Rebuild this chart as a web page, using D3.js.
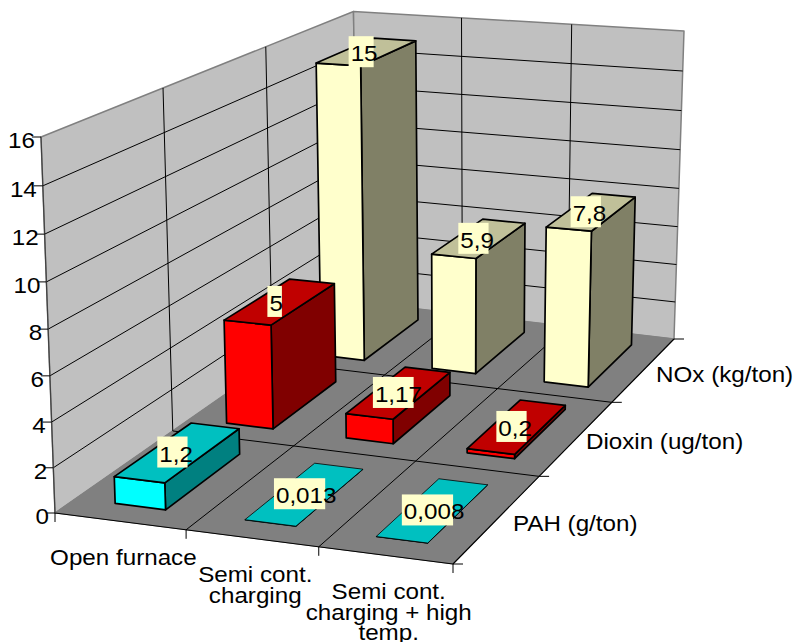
<!DOCTYPE html>
<html>
<head>
<meta charset="utf-8">
<style>
  html, body { margin: 0; padding: 0; background: #fff; }
  svg { display: block; }
  text { font-family: "Liberation Sans", Arial, sans-serif; fill: #000; }
</style>
<script src="https://d3js.org/d3.v7.min.js"></script>
</head>
<body>
<svg id="chart" width="794" height="642"></svg>
<script>
// Chart values
const categories = ["Open furnace", "Semi cont.\ncharging", "Semi cont.\ncharging + high\ntemp."];
const seriesNames = ["PAH (g/ton)", "Dioxin (ug/ton)", "NOx (kg/ton)"]; // front to back
const pahValues = [1.2, 0.013, 0.008];
const dioxinValues = [5, 1.17, 0.2];
const noxValues = [15, 5.9, 7.8];
const yTicks = [0, 2, 4, 6, 8, 10, 12, 14, 16];

const seriesValues = [pahValues, dioxinValues, noxValues];
const seriesColors = [
  { front: "#00FFFF", top: "#00C0C0", side: "#008080" },
  { front: "#FF0000", top: "#C00000", side: "#800000" },
  { front: "#FFFFCC", top: "#C0C099", side: "#808066" }
];

// Box corners on screen: front-left, front-right, back-right, back-left
const floorQuad = [[55, 513], [453, 564], [674, 339], [358, 302]];
const topQuad = [[41, 137], [456, 167], [684, 31], [353.5, 11.5]];
const heightBend = 0.045; // uprights foreshorten slightly towards the floor
const seriesLabelNudge = [[15, 13], [9, 11], [12, 13]];

function squareToQuad(q) {
  const [x0, y0] = q[0], [x1, y1] = q[1], [x2, y2] = q[2], [x3, y3] = q[3];
  const dx1 = x1 - x2, dx2 = x3 - x2, dy1 = y1 - y2, dy2 = y3 - y2;
  const sx = x0 - x1 + x2 - x3, sy = y0 - y1 + y2 - y3;
  const den = dx1 * dy2 - dx2 * dy1;
  const g = (sx * dy2 - dx2 * sy) / den;
  const h = (dx1 * sy - sx * dy1) / den;
  const a = x1 - x0 + g * x1, b = x3 - x0 + h * x3;
  const d = y1 - y0 + g * y1, e = y3 - y0 + h * y3;
  return (u, v) => {
    const w = g * u + h * v + 1;
    return [(a * u + b * v + x0) / w, (d * u + e * v + y0) / w];
  };
}

const floorAt = squareToQuad(floorQuad);
const topAt = squareToQuad(topQuad);

// u across categories, v into depth, z up; all 0..1
function project(u, v, z) {
  const p0 = floorAt(u, v), p1 = topAt(u, v);
  const t = z / (1 + heightBend * (1 - z));
  return [p0[0] + (p1[0] - p0[0]) * t, p0[1] + (p1[1] - p0[1]) * t];
}

const xBand = d3.scaleBand().domain(d3.range(3)).range([0, 1]).paddingInner(0.61).paddingOuter(0.305);
const depthBand = d3.scaleBand().domain(d3.range(3)).range([0, 1]).paddingInner(0.33).paddingOuter(0.165);
const zScale = d3.scaleLinear().domain([0, 16]).range([0, 1]);

const svg = d3.select("#chart");
const poly = d3.line().curve(d3.curveLinearClosed);
const seg = d3.line();

function face(g, pts, fill, stroke, sw) {
  g.append("path").attr("d", poly(pts)).attr("fill", fill)
    .attr("stroke", stroke).attr("stroke-width", sw).attr("stroke-linejoin", "round");
}
function rule(g, a, b, color, sw) {
  g.append("path").attr("d", seg([a, b])).attr("fill", "none").attr("stroke", color).attr("stroke-width", sw);
}

// Walls and floor
const frame = svg.append("g");
face(frame, [project(0, 0, 0), project(0, 1, 0), project(0, 1, 1), project(0, 0, 1)], "#C0C0C0", "#808080", 1.5);
face(frame, [project(0, 1, 0), project(1, 1, 0), project(1, 1, 1), project(0, 1, 1)], "#C0C0C0", "#808080", 1.5);
face(frame, [project(0, 0, 0), project(1, 0, 0), project(1, 1, 0), project(0, 1, 0)], "#808080", "#808080", 1);

// Gridlines
yTicks.slice(1, -1).forEach(t => {
  const z = zScale(t);
  rule(frame, project(0, 0, z), project(0, 1, z), "#000", 1);
  rule(frame, project(0, 1, z), project(1, 1, z), "#000", 1);
});
[1 / 3, 2 / 3].forEach(f => {
  rule(frame, project(0, f, 0), project(0, f, 1), "#000", 1);
  rule(frame, project(f, 1, 0), project(f, 1, 1), "#000", 1);
  rule(frame, project(f, 0, 0), project(f, 1, 0), "#000", 1);
  rule(frame, project(0, f, 0), project(1, f, 0), "#000", 1);
});

// Axis edges and ticks
rule(frame, project(0, 0, 0), project(1, 0, 0), "#000", 1.2);
rule(frame, project(1, 0, 0), project(1, 1, 0), "#000", 1.2);
rule(frame, project(0, 0, 0), project(0, 0, 1), "#404040", 1.2);
yTicks.forEach(t => {
  const p = project(0, 0, zScale(t));
  rule(frame, [p[0] - 9, p[1]], p, "#000", 1);
  svg.append("text").attr("text-anchor", "end")
    .attr("transform", `translate(${p[0] - 6},${p[1] + 11}) scale(1.1,1)`)
    .attr("font-size", 22).text(t);
});
[0, 1 / 3, 2 / 3, 1].forEach(f => {
  const p = project(f, 0, 0);
  rule(frame, p, [p[0], p[1] + 9], "#000", 1);
});
[0, 1 / 3, 2 / 3, 1].forEach(f => {
  const p = project(1, f, 0);
  rule(frame, p, [p[0] + 10, p[1]], "#000", 1);
});

// Bars, back row first
const bars = svg.append("g");
const labels = [];
[2, 1, 0].forEach(s => {
  categories.forEach((c, i) => {
    const u0 = xBand(i), u1 = u0 + xBand.bandwidth();
    const v0 = depthBand(s), v1 = v0 + depthBand.bandwidth();
    const z = zScale(seriesValues[s][i]);
    const col = seriesColors[s];
    const sw = seriesValues[s][i] < 0.1 ? 0.8 : 1.7;
    face(bars, [project(u1, v0, 0), project(u1, v1, 0), project(u1, v1, z), project(u1, v0, z)], col.side, "#000", sw);
    face(bars, [project(u0, v0, 0), project(u1, v0, 0), project(u1, v0, z), project(u0, v0, z)], col.front, "#000", sw);
    face(bars, [project(u0, v0, z), project(u1, v0, z), project(u1, v1, z), project(u0, v1, z)], col.top, "#000", sw);
    labels.push({ at: project((u0 + u1) / 2, (v0 + v1) / 2, z), text: String(seriesValues[s][i]).replace(".", ",") });
  });
});

// Data labels sit on a pale box narrower than the text
const labelLayer = svg.append("g");
labels.forEach(d => {
  const g = labelLayer.append("g");
  const rect = g.append("rect").attr("fill", "#FFFFCC");
  const txt = g.append("text").attr("font-size", 22).text(d.text);
  const len = txt.node().getComputedTextLength() * 1.1;
  const w = len * 0.78 + 4;
  const left = d.at[0] - w / 2 - 6;
  rect.attr("x", left).attr("y", d.at[1] - 15.5).attr("width", w).attr("height", 31);
  txt.attr("transform", `translate(${left + 2},${d.at[1] + 9.5}) scale(1.1,1)`);
});

// Category labels under the front edge
categories.forEach((c, i) => {
  const p = project(xBand(i) + xBand.bandwidth() / 2, 0, 0);
  c.split("\n").forEach((line, j) => {
    svg.append("text").attr("text-anchor", "middle")
      .attr("transform", `translate(${p[0] + 3},${p[1] + 44 + j * 20.5}) scale(1.1,1)`)
      .attr("font-size", 22).text(line);
  });
});

// Series labels beside the right edge
seriesNames.forEach((name, s) => {
  const p = project(1, depthBand(s) + depthBand.bandwidth() / 2, 0);
  svg.append("text")
    .attr("transform", `translate(${p[0] + seriesLabelNudge[s][0]},${p[1] + seriesLabelNudge[s][1]}) scale(1.1,1)`)
    .attr("font-size", 22).text(name);
});
</script>
</body>
</html>
